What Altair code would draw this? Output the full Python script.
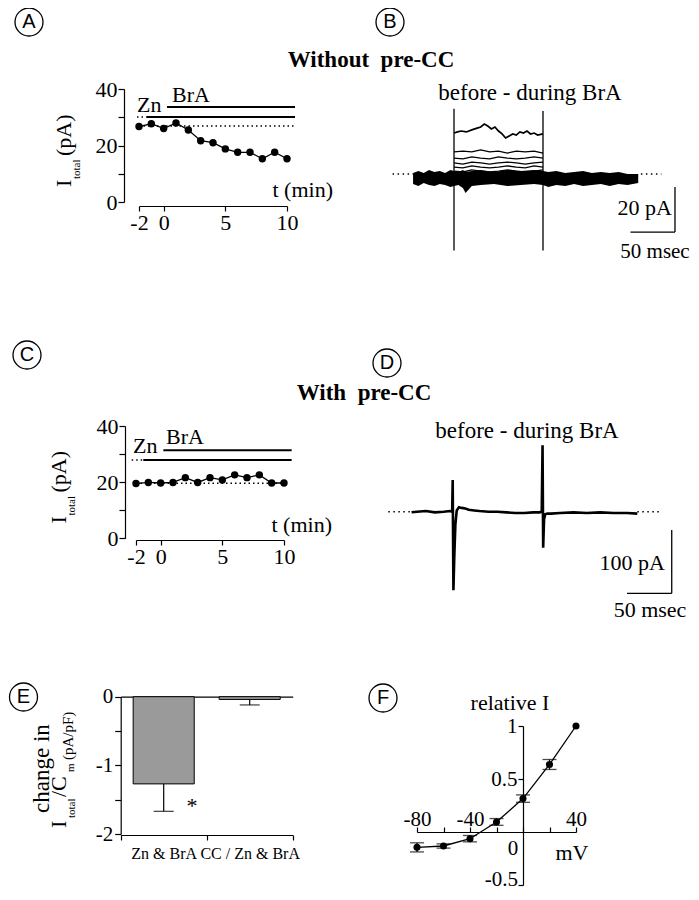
import altair as alt
import pandas as pd

SERIF = "'Liberation Serif', 'Times New Roman', Tinos, 'DejaVu Serif', serif"
SANS = "'Liberation Sans', Arial, 'DejaVu Sans', sans-serif"
W, H = 683, 884

# ---------------- data ----------------
# Panels A / C : time course of total current
t_min = [-2, -1, 0, 1, 2, 3, 4, 5, 6, 7, 8, 9, 10]
a_itotal = [26.7, 27.7, 26.0, 28.0, 25.5, 21.7, 21.0, 18.8, 17.6, 17.6, 15.3, 17.6, 15.3]
c_itotal = [19.5, 19.9, 19.7, 19.9, 21.6, 19.9, 21.6, 20.8, 22.6, 21.6, 22.6, 19.7, 19.7]
ac_xticks = [-2, 0, 5, 10]
ac_yticks = [0, 10, 20, 30, 40]
# application bars: start (min), end (min), level (pA)
a_zn_pre = [-2.16, -1.35, 30.1]
a_zn = [-1.35, 10.65, 30.1]
a_bra = [0.27, 10.65, 33.6]
a_base = [-2.0, 10.65, 26.9]
c_zn_pre = [-2.35, -1.41, 27.9]
c_zn = [-1.41, 10.62, 27.9]
c_bra = [0.22, 10.62, 31.4]
c_base = [-2.0, 10.0, 19.6]

# Panel B : current traces (ms, pA)
b_base_t = [-46, -40, -34, -28, -22, -16, -10, -4, 0, 5, 10, 13, 20, 30, 45, 60, 75, 90,
            100, 106, 115, 125, 135, 145, 155, 165, 175, 185, 195, 207]
b_base_hi = [0.4, 1.3, 0.4, 1.8, 0.9, 1.3, 0.4, 1.8, 1.3, 0.9, 1.8, 0.9, 1.3, 1.8, 0.9, 1.8, 1.3, 1.8,
             1.3, 0.9, 1.3, 0.4, 0.9, 1.3, 0.4, 0.9, 0.4, 0.9, 0.0, 0.0]
b_base_lo = [-4.4, -5.3, -4.0, -4.9, -5.3, -4.4, -4.9, -5.8, -5.3, -4.9, -6.2, -8.4, -5.3, -4.9, -4.4, -5.3, -4.9, -4.4,
             -4.9, -5.8, -4.9, -5.3, -4.4, -5.3, -4.9, -4.4, -5.3, -4.4, -4.9, -4.0]
b_tr1_t = [0, 4, 8, 14, 20, 26, 30, 34, 38, 42, 46, 50, 54, 58, 62, 66, 70, 74, 78, 82, 86, 90, 94, 100]
b_tr1 = [18.2, 18.7, 19.1, 18.7, 19.6, 20.4, 20.9, 22.2, 21.3, 20.0, 20.9, 19.1, 17.8, 16.0, 16.9, 17.8,
         17.3, 18.7, 18.2, 19.1, 17.8, 18.2, 17.3, 17.8]
b_step_t = [0, 10, 20, 30, 40, 50, 60, 70, 80, 90, 100]
b_tr2 = [9.8, 10.2, 9.8, 10.7, 9.8, 10.2, 9.3, 10.2, 9.8, 10.2, 9.3]
b_tr3 = [7.1, 6.7, 7.6, 7.1, 6.7, 7.6, 7.1, 6.7, 7.1, 7.6, 7.1]
b_tr4 = [4.9, 4.4, 5.3, 4.9, 4.4, 4.9, 5.3, 4.9, 4.4, 4.9, 5.3]
b_tr5 = [3.1, 2.7, 3.6, 3.1, 2.7, 3.1, 3.6, 3.1, 2.7, 3.6, 3.1]
b_tr6 = [1.3, 0.9, 1.8, 1.3, 0.9, 1.3, 1.8, 1.3, 0.9, 1.3, 1.8]
b_transient_t = [0, 100]
b_transient_top = [29, 28]
b_transient_bottom = [-34, -34]
b_dotted = [[-69, -46], [210, 233]]
b_bar_anchor = [248.3, -25.8]   # corner of scale bar (ms, pA)
b_bar_ms, b_bar_pA = 50, 20

# Panel D : current trace (ms, pA)
d_t = [-46, -40, -30, -20, -10, -3, -0.6, 0.0, 0.8, 1.8, 3.0, 4.5, 7, 10, 14, 18, 24, 30, 40, 50, 60,
       70, 80, 90, 97, 99.6, 100.5, 101.2, 102.2, 103.5, 106, 110, 120, 135, 150, 165, 180, 195, 206.5]
d_pA = [-1, 0, 1, -1, 0, 1, 0, 50, -124, -70, -20, 2, 7, 6, 5, 3, 2, 1, 0, 0, -1,
        -2, -2, -1, -1, 0, 105, -57, -12, -4, -3, -3, -2, -1, -2, -1, -2, -2, -3]
d_dotted = [[-72, -46], [206.5, 232]]
d_bar_anchor = [245, -128.9]
d_bar_ms, d_bar_pA = 50, 100

# Panel E : bar chart
e_cats = ["Zn & BrA", "CC / Zn & BrA"]
e_vals = [-1.27, -0.04]
e_errs = [0.40, 0.08]
e_yticks = [0, -0.5, -1, -1.5, -2]

# Panel F : I-V relation
f_mv = [-80, -60, -40, -20, 0, 20, 40]
f_rel = [-0.145, -0.132, -0.063, 0.095, 0.315, 0.637, 1.0]
f_err = [0.043, 0.02, 0.03, 0.032, 0.035, 0.047, 0.0]
f_xticks = [-80, -60, -40, -20, 0, 20, 40]
f_yticks = [-0.5, 0.5, 1]


# ---------------- helpers ----------------
def S(domain, rng):
    return alt.Scale(domain=domain, range=rng, nice=False, zero=False)


def qx(field, sc, axis=None):
    return alt.X(field, type="quantitative", scale=sc, axis=axis)


def qy(field, sc, axis=None):
    return alt.Y(field, type="quantitative", scale=sc, axis=axis)


def seg_df(rows):
    return pd.DataFrame(rows, columns=["x", "x2", "y", "y2"])


def seg_layer(rows, xs, ys, **mark):
    return alt.Chart(seg_df(rows)).mark_rule(color="black", **mark).encode(
        x=qx("x", xs), x2="x2", y=qy("y", ys), y2="y2")


axis_common = dict(title=None, labelFont=SERIF, labelColor="black", labelFlush=False,
                   labelOverlap=False, domainColor="black", tickColor="black",
                   domainWidth=1.2, tickWidth=1.2, grid=False)

layers = []

# ---------------- panels A and C ----------------
def time_course(vals, zn_pre, zn, bra, base, xs, ys, xoff, yoff):
    df = pd.DataFrame({"t": t_min, "i": vals})
    out = []
    out.append(seg_layer([[base[0], base[1], base[2], base[2]], [zn_pre[0], zn_pre[1], zn_pre[2], zn_pre[2]]],
                         xs, ys, strokeWidth=1.5, strokeDash=[1.5, 3]))
    out.append(seg_layer([[zn[0], zn[1], zn[2], zn[2]], [bra[0], bra[1], bra[2], bra[2]]],
                         xs, ys, strokeWidth=2))
    out.append(alt.Chart(df).mark_line(color="black", strokeWidth=1.3).encode(
        x=qx("t", xs), y=qy("i", ys)))
    xa = alt.Axis(orient="bottom", offset=xoff, values=ac_xticks, labelExpr="toString(datum.value)",
                  tickSize=5, labelPadding=1, labelFontSize=22, **axis_common)
    ya = alt.Axis(orient="left", offset=yoff, values=ac_yticks,
                  labelExpr="datum.value % 20 == 0 ? toString(datum.value) : ''",
                  tickSize=6, labelPadding=1, labelFontSize=22, **axis_common)
    out.append(alt.Chart(df).mark_circle(color="black", opacity=1, size=55).encode(
        x=qx("t", xs, xa), y=qy("i", ys, ya)))
    return out


layers += time_course(a_itotal, a_zn_pre, a_zn, a_bra, a_base,
                      S([-2, 10], [131, 279]), S([0, 40], [194, 81]), 198 - H, -116)
layers += time_course(c_itotal, c_zn_pre, c_zn, c_bra, c_base,
                      S([-2, 10], [128, 276]), S([0, 40], [530.3, 418]), 532 - H, -117)

# ---------------- panel B ----------------
BX, BY = S([0, 100], [446, 535]), S([0, 20], [166, 121])
layers.append(alt.Chart(pd.DataFrame({"t": b_base_t, "hi": b_base_hi, "lo": b_base_lo}))
              .mark_area(color="black", opacity=1)
              .encode(x=qx("t", BX), y=qy("hi", BY), y2="lo"))
steps = []
for k, tr in enumerate([b_tr2, b_tr3, b_tr4, b_tr5, b_tr6]):
    for t, v in zip(b_step_t, tr):
        steps.append({"trace": k, "t": t, "v": v})
layers.append(alt.Chart(pd.DataFrame(steps)).mark_line(color="black", strokeWidth=1.3)
              .encode(x=qx("t", BX), y=qy("v", BY), detail="trace:N"))
layers.append(alt.Chart(pd.DataFrame({"t": b_tr1_t, "v": b_tr1})).mark_line(color="black", strokeWidth=1.7)
              .encode(x=qx("t", BX), y=qy("v", BY)))
b_segs = [[t, t, top, bot] for t, top, bot in zip(b_transient_t, b_transient_top, b_transient_bottom)]
bx0, by0 = b_bar_anchor
b_segs += [[bx0, bx0, by0, by0 + b_bar_pA], [bx0 - b_bar_ms, bx0, by0, by0]]
layers.append(seg_layer(b_segs, BX, BY, strokeWidth=1.3))
layers.append(seg_layer([[a, b, 0, 0] for a, b in b_dotted], BX, BY, strokeWidth=1.4, strokeDash=[1.5, 3.5]))

# ---------------- panel D ----------------
DX, DY = S([0, 100], [444.7, 534.1]), S([0, 100], [503.7, 440.4])
layers.append(alt.Chart(pd.DataFrame({"t": d_t, "v": d_pA})).mark_line(color="black", strokeWidth=2.6)
              .encode(x=qx("t", DX), y=qy("v", DY)))
dx0, dy0 = d_bar_anchor
layers.append(seg_layer([[dx0, dx0, dy0, dy0 + d_bar_pA], [dx0 - d_bar_ms, dx0, dy0, dy0]], DX, DY, strokeWidth=1.3))
layers.append(seg_layer([[a, b, 0, 0] for a, b in d_dotted], DX, DY, strokeWidth=1.4, strokeDash=[1.5, 3.5]))

# ---------------- panel E ----------------
EX = alt.Scale(type="band", domain=e_cats, range=[112.7, 284.7], paddingInner=0, paddingOuter=0)
EY = S([-2, 0], [826, 688.7])
e_df = pd.DataFrame({"cat": e_cats, "val": e_vals,
                     "low": [v - e for v, e in zip(e_vals, e_errs)]})
ex_axis = alt.Axis(orient="bottom", offset=827 - H, tickBand="extent", tickSize=5, labelPadding=5,
                   labelFontSize=16, labelAngle=0, **axis_common)
ey_axis = alt.Axis(orient="left", offset=-112.7, values=e_yticks,
                   labelExpr="datum.value % 1 == 0 ? toString(datum.value) : ''",
                   tickSize=6, labelPadding=2, labelFontSize=21, **axis_common)
zero_axis = alt.Axis(orient="top", offset=-688.7, ticks=False, labels=False, **axis_common)
layers.append(alt.Chart(e_df).mark_bar(color="#9a9a9a", stroke="black", strokeWidth=1,
                                       width=alt.RelativeBandSize(band=0.71))
              .encode(x=alt.X("cat:N", scale=EX, axis=ex_axis, sort=e_cats),
                      y=qy("val", EY, ey_axis), y2=alt.datum(0)))
layers.append(alt.Chart(e_df).mark_rule(color="black", strokeWidth=1.2)
              .encode(x=alt.X("cat:N", scale=EX, axis=zero_axis, sort=e_cats),
                      y=qy("val", EY), y2="low"))
layers.append(alt.Chart(e_df).mark_tick(color="black", orient="horizontal", size=20, thickness=1.3)
              .encode(x=alt.X("cat:N", scale=EX, axis=None, sort=e_cats), y=qy("low", EY)))

# ---------------- panel F ----------------
FXs, FYs = S([-80, 40], [409, 568]), S([-0.5, 1], [877, 718])
f_df = pd.DataFrame({"mv": f_mv, "rel": f_rel, "err": f_err})
f_df["lo"] = f_df["rel"] - f_df["err"]
f_df["hi"] = f_df["rel"] + f_df["err"]
f_eb = f_df[f_df["err"] > 0]
f_caps = pd.concat([f_eb[["mv"]].assign(c=f_eb["lo"]), f_eb[["mv"]].assign(c=f_eb["hi"])])
fx_axis = alt.Axis(orient="top", offset=-824, values=f_xticks,
                   labelExpr="abs(datum.value) == 80 || abs(datum.value) == 40 ? toString(datum.value) : ''",
                   tickSize=5, labelPadding=2, labelBaseline="alphabetic", labelFontSize=21, **axis_common)
fy_axis = alt.Axis(orient="left", offset=-515, values=f_yticks,
                   labelExpr="datum.value > 0 ? toString(datum.value) : ''",
                   tickSize=5, labelPadding=1, labelFontSize=21, **axis_common)
layers.append(alt.Chart(f_eb).mark_rule(color="black", strokeWidth=1.2)
              .encode(x=qx("mv", FXs), y=qy("lo", FYs), y2="hi"))
layers.append(alt.Chart(f_caps).mark_tick(color="black", orient="horizontal", size=14, thickness=1.3)
              .encode(x=qx("mv", FXs), y=qy("c", FYs)))
layers.append(alt.Chart(f_df).mark_line(color="black", strokeWidth=1.3)
              .encode(x=qx("mv", FXs), y=qy("rel", FYs)))
layers.append(alt.Chart(f_df).mark_circle(color="black", opacity=1, size=50)
              .encode(x=qx("mv", FXs, fx_axis), y=qy("rel", FYs, fy_axis)))

# ---------------- annotations (figure pixel coordinates) ----------------
FX = S([8, 8 + W], [0, W])
FY = S([8, 8 + H], [0, H])


def fig_text(rows, **mark):
    df = pd.DataFrame(rows, columns=["label", "x", "y", "fs"])
    return alt.Chart(df).mark_text(color="black", **mark).encode(
        x=qx("x", FX), y=qy("y", FY), text="label:N",
        size=alt.Size("fs:Q", scale=None, legend=None))


layers.append(fig_text([["Zn", 137, 112, 22], ["BrA", 172, 102, 22],
                        ["Zn", 133, 453, 22], ["BrA", 166, 444, 22]],
                       font=SERIF, align="left", baseline="alphabetic"))
layers.append(fig_text([["t (min)", 333, 197, 22], ["t (min)", 332, 532, 22],
                        ["20 pA", 672, 215, 22], ["100 pA", 665, 570, 22],
                        ["-0.5", 518, 886, 21]],
                       font=SERIF, align="right", baseline="alphabetic"))
layers.append(fig_text([["before - during BrA", 530, 100, 23], ["before - during BrA", 527, 438, 23],
                        ["50 msec", 655, 258, 21], ["50 msec", 650, 617, 22],
                        ["relative I", 510, 710, 22], ["mV", 572, 860, 22], ["0", 513, 855, 21],
                        ["*", 192, 813, 22]],
                       font=SERIF, align="center", baseline="alphabetic"))
layers.append(fig_text([["Without\u00a0 pre-CC", 371, 67, 23], ["With\u00a0 pre-CC", 364, 400, 23]],
                       font=SERIF, fontWeight="bold", align="center", baseline="alphabetic"))
layers.append(fig_text([["I", 70.7, 187, 22], ["total", 80, 179, 11], ["(pA)", 70.7, 156, 22],
                        ["I", 66, 523.5, 22], ["total", 75, 515.5, 11], ["(pA)", 66, 492.5, 22],
                        ["change in", 49.3, 813, 23], ["I", 66, 828, 22], ["total", 74.5, 818, 11],
                        ["/C", 66, 797, 22], ["m", 74, 772, 11], ["(pA/pF)", 73, 760, 15]],
                       font=SERIF, angle=270, align="left", baseline="alphabetic"))
letters = [["A", 29, 22, 20], ["B", 390, 22, 20], ["C", 27, 355, 20],
           ["D", 387, 363, 20], ["E", 23.5, 697, 20], ["F", 383, 698, 20]]
layers.append(alt.Chart(pd.DataFrame(letters, columns=["label", "x", "y", "fs"]))
              .mark_point(shape="circle", filled=False, color="black", size=784, strokeWidth=1.3, opacity=1)
              .encode(x=qx("x", FX), y=qy("y", FY)))
layers.append(fig_text(letters, font=SANS, align="center", baseline="middle"))

chart = (alt.layer(*layers)
         .resolve_scale(x="independent", y="independent")
         .resolve_axis(x="independent", y="independent")
         .properties(width=W, height=H, padding=0, autosize="none", background="white")
         .configure_view(stroke=None)
         .configure_axis(grid=False))

chart.save("out.html", embed_options={"renderer": "svg", "actions": False})
